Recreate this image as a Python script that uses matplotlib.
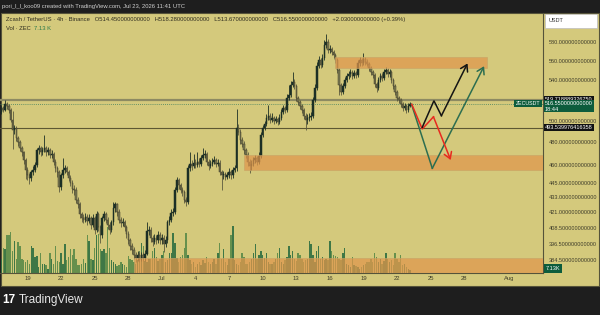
import pandas as pd
import matplotlib
matplotlib.use('Agg')
import matplotlib.pyplot as plt
import matplotlib.dates as mdates
import matplotlib.transforms as mtransforms
from matplotlib.patches import Rectangle
from matplotlib.ticker import FixedLocator, NullLocator, FuncFormatter

plt.rcParams['font.family'] = ['Liberation Sans', 'DejaVu Sans']

# ZEC/USDT 4h candles, Jun 16 12:00 -> Jul 23 08:00 (2026)
first_open = 510
closes = [508, 512, 510, 516, 514, 510, 501, 491, 493, 484,
          480, 475, 471, 464, 456, 451, 449, 454, 456, 460,
          473, 475, 471, 473, 475, 471, 473, 469, 470, 463,
          457, 454, 441, 451, 456, 457, 454, 449, 445, 440,
          439, 431, 427, 419, 416, 415, 417, 414, 416, 411,
          416, 407, 419, 409, 403, 416, 419, 415, 411, 407,
          413, 424, 427, 421, 415, 412, 413, 409, 404, 399,
          395, 392, 388, 386, 388, 385, 388, 386, 389, 406,
          407, 401, 398, 401, 399, 403, 399, 401, 396, 399,
          413, 415, 420, 421, 439, 447, 443, 439, 437, 431,
          429, 457, 461, 459, 462, 460, 463, 461, 466, 469,
          470, 463, 459, 461, 463, 464, 461, 462, 454, 451,
          452, 450, 451, 454, 451, 456, 457, 493, 490, 482,
          479, 473, 469, 463, 459, 461, 464, 466, 463, 468,
          487, 493, 497, 503, 505, 501, 503, 500, 502, 499,
          503, 508, 512, 510, 522, 525, 535, 538, 534, 522,
          518, 514, 510, 505, 501, 503, 504, 505, 520, 532,
          555, 561, 556, 563, 577, 580, 571, 573, 569, 566,
          561, 550, 535, 528, 534, 540, 544, 546, 548, 544,
          547, 545, 558, 561, 558, 562, 559, 557, 552, 548,
          545, 536, 532, 540, 544, 542, 548, 550, 546, 548,
          540, 534, 528, 522, 520, 516, 512, 514, 510, 514.45,
          516.55]
highs = [513, 515, 514, 520, 518, 516, 512, 509, 496, 495,
         486, 482, 477, 472, 466, 458, 453, 456, 459, 463,
         475, 478, 477, 476, 487, 477, 476, 475, 473, 471,
         465, 459, 456, 453, 466, 460, 459, 456, 451, 447,
         443, 441, 433, 429, 421, 419, 420, 419, 419, 418,
         419, 418, 422, 421, 411, 418, 422, 421, 417, 413,
         415, 429, 429, 428, 423, 417, 416, 415, 411, 406,
         401, 397, 394, 390, 391, 390, 390, 390, 392, 413,
         410, 409, 403, 404, 403, 406, 405, 404, 403, 402,
         415, 418, 423, 424, 441, 450, 449, 445, 441, 439,
         433, 460, 471, 464, 470, 465, 471, 466, 469, 475,
         473, 471, 465, 464, 466, 468, 466, 465, 464, 456,
         455, 454, 454, 457, 456, 458, 460, 511, 497, 492,
         485, 481, 475, 471, 465, 464, 467, 469, 468, 471,
         490, 496, 500, 506, 515, 507, 507, 505, 505, 504,
         506, 511, 515, 514, 526, 535, 539, 548, 541, 536,
         524, 520, 516, 512, 507, 506, 507, 508, 523, 536,
         559, 565, 563, 567, 582, 589, 583, 577, 575, 572,
         568, 563, 552, 537, 537, 543, 547, 549, 551, 550,
         550, 549, 561, 564, 563, 568, 564, 562, 559, 554,
         550, 547, 538, 543, 547, 547, 551, 553, 552, 551,
         550, 542, 536, 530, 524, 522, 518, 517, 516, 517,
         518.28]
lows = [505, 506, 508, 509, 511, 507, 499, 474, 488, 481,
        477, 472, 468, 461, 448, 447, 444, 446, 451, 454,
        458, 470, 468, 469, 471, 468, 469, 466, 466, 460,
        454, 450, 437, 439, 449, 453, 451, 446, 442, 436,
        435, 428, 424, 416, 413, 412, 413, 411, 412, 408,
        409, 404, 405, 406, 397, 401, 414, 412, 408, 404,
        405, 411, 421, 418, 412, 409, 410, 406, 401, 396,
        392, 389, 385, 383, 384, 383, 384, 384, 384, 388,
        403, 398, 395, 396, 396, 397, 396, 396, 390, 394,
        397, 411, 413, 418, 419, 437, 440, 436, 434, 428,
        426, 427, 455, 456, 457, 457, 458, 458, 459, 464,
        466, 460, 456, 457, 459, 461, 458, 459, 451, 439,
        448, 447, 448, 449, 448, 449, 454, 455, 487, 479,
        476, 470, 466, 459, 453, 456, 459, 462, 460, 461,
        466, 485, 491, 495, 501, 498, 499, 497, 498, 496,
        497, 501, 506, 507, 508, 520, 523, 533, 531, 519,
        515, 511, 507, 502, 491, 497, 500, 501, 503, 518,
        530, 552, 552, 553, 561, 574, 568, 568, 566, 563,
        558, 547, 525, 525, 526, 532, 538, 541, 543, 541,
        542, 542, 543, 555, 555, 556, 556, 554, 549, 545,
        542, 533, 528, 530, 538, 539, 540, 546, 543, 543,
        537, 531, 525, 519, 517, 513, 509, 510, 507, 508,
        513.67]
vol_k = [58, 34, 62, 58, 94, 94, 101, 55, 79, 34,
         77, 67, 34, 31, 26, 31, 22, 65, 60, 38,
         41, 14, 48, 22, 22, 19, 10, 50, 34, 22,
         65, 29, 26, 48, 22, 72, 31, 38, 58, 43,
         58, 34, 19, 19, 22, 34, 24, 94, 79, 34,
         31, 62, 94, 96, 58, 55, 58, 50, 113, 62,
         31, 26, 22, 17, 19, 26, 22, 19, 14, 41,
         34, 31, 26, 22, 31, 55, 74, 67, 30, 26,
         34, 34, 55, 62, 38, 29, 34, 43, 55, 26,
         31, 48, 50, 98, 74, 36, 26, 38, 43, 62,
         98, 43, 31, 22, 26, 14, 22, 26, 19, 31,
         24, 38, 26, 22, 26, 34, 22, 50, 74, 34,
         58, 26, 19, 34, 94, 115, 31, 22, 19, 26,
         50, 38, 22, 22, 26, 34, 48, 70, 34, 43,
         55, 43, 36, 50, 26, 22, 22, 26, 34, 48,
         60, 26, 22, 31, 38, 67, 43, 55, 34, 29,
         48, 43, 34, 26, 31, 34, 79, 70, 43, 26,
         55, 67, 34, 38, 31, 34, 31, 79, 55, 43,
         41, 38, 34, 31, 48, 60, 22, 19, 14, 38,
         19, 17, 14, 10, 14, 19, 22, 26, 26, 34,
         26, 50, 38, 26, 34, 22, 29, 50, 34, 26,
         31, 19, 48, 34, 26, 43, 19, 22, 14, 10,
         7.13]

price_ticks = [580, 560, 540, 500, 480, 460, 445, 433, 421, 408.5, 396.5, 384.5]
day_ticks = ['2026-06-19', '2026-06-22', '2026-06-25', '2026-06-28', '2026-07-01',
             '2026-07-04', '2026-07-07', '2026-07-10', '2026-07-13', '2026-07-16',
             '2026-07-19', '2026-07-22', '2026-07-25', '2026-07-28', '2026-08-01']
day_labels = ['19', '22', '25', '28', 'Jul', '4', '7', '10', '13', '16',
              '19', '22', '25', '28', 'Aug']

level_hi = 519.718889326750
level_lo = 493.539976416358

# zones: start, end, bottom price, top price
zone_top = ('2026-07-16 10:00', '2026-07-30 00:00', 552.6, 564.0)
zone_mid = ('2026-07-08 09:00', '2026-08-06 00:00', 456.0, 469.0)
zone_low = ('2026-06-28 13:00', '2026-08-06 00:00', 360.0, 386.0)

# projected paths
red_t = ['2026-07-23 07:30', '2026-07-24 06:00', '2026-07-25 06:00', '2026-07-26 19:00']
red_p = [515.8, 492.3, 503.8, 464.3]
black_t = ['2026-07-24 06:00', '2026-07-25 07:00', '2026-07-25 23:00', '2026-07-28 07:00']
black_p = [493.9, 519.3, 504.8, 557.2]
green_t = ['2026-07-23 07:00', '2026-07-25 03:30', '2026-07-29 18:30']
green_p = [515.8, 457.1, 554.3]

BG = '#d4c97c'
DARK = '#1e1e1e'
AXC = '#3f3d2a'
W, H = 600, 315


def fx(px):
    return px / W


def fy(py):
    return 1 - py / H


fig = plt.figure(figsize=(6, 3.15), dpi=100, facecolor=DARK)
fig.patches.append(Rectangle((0.001, fy(286)), 0.997, (286 - 13) / H, transform=fig.transFigure,
                             fc=BG, ec='#55533a', lw=0.8, zorder=-10))

pane = [0, fy(273), 543 / W, 260 / H]
axv = fig.add_axes(pane)
ax = fig.add_axes(pane)
axv.set_zorder(1)
ax.set_zorder(2)

times = pd.date_range('2026-06-16 12:00', periods=len(closes), freq='4h')
x = mdates.date2num(times)
step = 4 / 24
opens = [first_open] + closes[:-1]
xlim = (mdates.date2num(pd.Timestamp('2026-06-16 13:06')), mdates.date2num(pd.Timestamp('2026-08-04 00:45')))

# volume
up = [c >= o for o, c in zip(opens, closes)]
axv.bar(x, vol_k, width=step * 0.75, color=['#2f6e40' if u else '#5a8a48' for u in up], lw=0, alpha=0.9)
axv.set_xlim(xlim)
axv.set_ylim(0, max(vol_k) * 260 / 47)
axv.axis('off')

# levels
ax.axhline(level_hi, color='#8d8a62', lw=1.6, zorder=2)
ax.axhline(closes[-1], color='#3f7f5f', lw=0.6, ls=(0, (1, 1.5)), zorder=2)
ax.axhline(level_lo, color='#5d5732', lw=0.8, zorder=2)

# candles
bottoms = [min(o, c) for o, c in zip(opens, closes)]
heights = [max(abs(c - o), 0.4) for o, c in zip(opens, closes)]
ax.vlines(x, lows, highs, colors=['#1c2f25' if u else '#5c5a3e' for u in up], lw=0.6, zorder=3)
ax.bar(x, heights, bottom=bottoms, width=step * 0.8,
       color=['#1c2f25' if u else '#7d7a52' for u in up],
       edgecolor=['#1c2f25' if u else '#3f3d2a' for u in up], linewidth=0.35, zorder=4)

# zones
for t0, t1, p0, p1 in (zone_top, zone_mid, zone_low):
    a, b = mdates.date2num(pd.Timestamp(t0)), mdates.date2num(pd.Timestamp(t1))
    ax.add_patch(Rectangle((a, p0), b - a, p1 - p0, fc='#e0964c', ec='#c9a466', lw=0.6,
                           alpha=0.72, zorder=5))


def path_arrow(ts, ps, color):
    xs = mdates.date2num(pd.to_datetime(ts))
    ax.plot(xs[:-1], ps[:-1], color=color, lw=1.1, solid_joinstyle='miter', zorder=6)
    ax.annotate('', xy=(xs[-1], ps[-1]), xytext=(xs[-2], ps[-2]),
                arrowprops=dict(arrowstyle='->,head_length=0.45,head_width=0.28', color=color,
                                lw=1.1, shrinkA=0, shrinkB=0), zorder=6)


path_arrow(green_t, green_p, '#2d6e50')
path_arrow(red_t, red_p, '#e8291f')
path_arrow(black_t, black_p, '#141414')

ax.set_yscale('log')
ax.set_ylim(375.2, 612.8)
ax.set_xlim(xlim)
ax.set_facecolor('none')
ax.yaxis.tick_right()
ax.yaxis.set_major_locator(FixedLocator(price_ticks))
ax.yaxis.set_minor_locator(NullLocator())
ax.yaxis.set_major_formatter(FuncFormatter(lambda v, pos: f'{v:.12f}'))
ax.set_xticks(mdates.date2num(pd.to_datetime(day_ticks)))
ax.set_xticklabels(day_labels)
ax.tick_params(axis='y', length=0, pad=4, labelsize=4, labelcolor=AXC)
ax.tick_params(axis='x', length=0, pad=2.5, labelsize=4.2, labelcolor=AXC)
for s in ('top', 'left'):
    ax.spines[s].set_visible(False)
for s in ('right', 'bottom'):
    ax.spines[s].set_color('#55533a')
    ax.spines[s].set_linewidth(0.8)

# price tags on the scale
tr = mtransforms.blended_transform_factory(ax.transAxes, ax.transData)
ax.annotate(f'{level_hi:.12f}', xy=(1, level_hi), xycoords=tr, xytext=(1.5, 0.6),
            textcoords='offset points', fontsize=4, color='white', va='center', ha='left',
            bbox=dict(boxstyle='square,pad=0.15', fc='#121212', ec='none'), annotation_clip=False, zorder=10)
ax.annotate(f'{closes[-1]:.12f}\n18:44', xy=(1, closes[-1]), xycoords=tr, xytext=(1.5, 2.0),
            textcoords='offset points', fontsize=4, color='white', va='top', ha='left', linespacing=1.2,
            bbox=dict(boxstyle='square,pad=0.15', fc='#0d5c3c', ec='none'), annotation_clip=False, zorder=11)
ax.annotate(f'{level_lo:.12f}', xy=(1, level_lo), xycoords=tr, xytext=(1.5, 0),
            textcoords='offset points', fontsize=4, color='white', va='center', ha='left',
            bbox=dict(boxstyle='square,pad=0.15', fc='#121212', ec='none'), annotation_clip=False, zorder=10)
ax.annotate('ZECUSDT', xy=(1, closes[-1]), xycoords=tr, xytext=(-2, 0), textcoords='offset points',
            fontsize=3.8, color='white', va='center', ha='right',
            bbox=dict(boxstyle='square,pad=0.25', fc='#0d5c3c', ec='none'), annotation_clip=False, zorder=11)

fig.patches.append(Rectangle((fx(545), fy(28)), 52 / W, 14 / H, transform=fig.transFigure,
                             fc='white', ec='#bdbdbd', lw=0.5, zorder=3))
fig.text(fx(549), fy(21), 'USDT', fontsize=4, color='#333333', va='center', zorder=4)
fig.text(fx(546), fy(268.5), f'{vol_k[-1]:.2f}K', fontsize=4, color='white', va='center', zorder=4,
         bbox=dict(boxstyle='square,pad=0.3', fc='#0d5c3c', ec='none'))

# legend lines
legend = (f'Zcash / TetherUS · 4h · Binance   O{opens[-1]:.12f}   H{highs[-1]:.12f}   '
          f'L{lows[-1]:.12f}   C{closes[-1]:.12f}   +2.030000000000 (+0.39%)')
fig.text(fx(6), fy(20), legend, fontsize=4.2, color='#2e2c1e', va='center', zorder=4)
fig.text(fx(6), fy(28.5), 'Vol · ZEC', fontsize=4.2, color='#2e2c1e', va='center', zorder=4)
fig.text(fx(34), fy(28.5), f'{vol_k[-1]:.2f} K', fontsize=4.2, color='#2b7a4b', va='center', zorder=4)

# header and footer
fig.text(fx(2), fy(6.5), 'pori_l_l_koo09 created with TradingView.com, Jul 23, 2026 11:41 UTC',
         fontsize=4.2, color='#d0d0d0', va='center')
fig.text(fx(2), fy(300), '17', fontsize=8.5, fontweight='bold', color='white', va='center')
fig.text(fx(19), fy(300), 'TradingView', fontsize=8.5, color='#e8e8e8', va='center')

fig.savefig('out.png', dpi=100, facecolor=DARK)
